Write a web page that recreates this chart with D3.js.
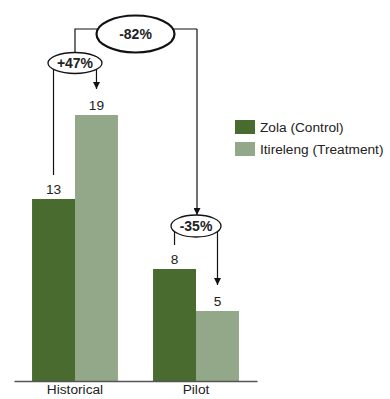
<!DOCTYPE html>
<html>
<head>
<meta charset="utf-8">
<script src="https://cdn.jsdelivr.net/npm/d3@7"></script>
<style>
  body { margin: 0; background: #fff; }
  text { font-family: "Liberation Sans", Arial, sans-serif; fill: #222; }
</style>
</head>
<body>
<script>
// data
let categories = ['Historical', 'Pilot'];
let seriesNames = ['Zola (Control)', 'Itireleng (Treatment)'];
let control = [13, 8];
let treatment = [19, 5];
let withinChange = ['+47%', '-35%'];
let acrossChange = '-82%';

let w = 390, h = 399;
let colors = ['#4a6b30', '#93a889'];

let svg = d3.select('body').append('svg')
    .attr('width', w)
    .attr('height', h);

let x = d3.scaleBand()
    .domain(categories)
    .range([14, 257])
    .paddingInner(0.29)
    .paddingOuter(0.149);

let x1 = d3.scaleBand()
    .domain(seriesNames)
    .range([0, x.bandwidth()]);

let y = d3.scaleLinear()
    .domain([0, 20])
    .range([381, 101]);

let rows = categories.map((c, i) => ({cat: c, vals: [control[i], treatment[i]]}));

let groups = svg.selectAll('g.grp')
    .data(rows)
    .enter()
    .append('g')
    .attr('class', 'grp')
    .attr('transform', d => `translate(${x(d.cat)},0)`);

groups.selectAll('rect')
    .data(d => d.vals.map((v, j) => ({s: seriesNames[j], v: v, j: j})))
    .enter()
    .append('rect')
    .attr('x', d => x1(d.s))
    .attr('y', d => y(d.v))
    .attr('width', x1.bandwidth())
    .attr('height', d => y(0) - y(d.v))
    .attr('fill', d => colors[d.j]);

groups.selectAll('text.val')
    .data(d => d.vals.map((v, j) => ({s: seriesNames[j], v: v})))
    .enter()
    .append('text')
    .attr('class', 'val')
    .attr('x', d => x1(d.s) + x1.bandwidth() / 2)
    .attr('y', d => y(d.v) - 5)
    .attr('text-anchor', 'middle')
    .style('font-size', '13.7px')
    .text(d => d.v);

// x axis
let xAxis = svg.append('g')
    .attr('transform', `translate(0,${y(0)})`)
    .call(d3.axisBottom(x).tickSize(0).tickPadding(3));
xAxis.select('.domain').attr('stroke', '#555').attr('stroke-width', 1.5);
xAxis.selectAll('text')
    .style('font-size', '13.7px')
    .style('font-family', '"Liberation Sans", Arial, sans-serif')
    .attr('fill', '#222');

// legend
let legend = svg.append('g').attr('transform', 'translate(235,120)');
seriesNames.forEach((s, i) => {
    legend.append('rect')
        .attr('x', 0)
        .attr('y', i * 22)
        .attr('width', 20)
        .attr('height', 14)
        .attr('fill', colors[i]);
    legend.append('text')
        .attr('x', 25)
        .attr('y', i * 22 + 12)
        .style('font-size', '13.7px')
        .text(s);
});

// annotations
let defs = svg.append('defs');
defs.append('marker')
    .attr('id', 'arr')
    .attr('viewBox', '0 0 10 10')
    .attr('refX', 10).attr('refY', 5)
    .attr('markerWidth', 7).attr('markerHeight', 7)
    .attr('markerUnits', 'userSpaceOnUse')
    .attr('orient', 'auto')
    .append('path')
    .attr('d', 'M0,0 L10,5 L0,10 Z')
    .attr('fill', '#111');

let ann = svg.append('g');
let cx = (c, s) => x(c) + x1(s) + x1.bandwidth() / 2;

let ellY = [63, 226];
let ellRx = [27, 25];
let ellRy = [10.5, 11];
let centers = [];

categories.forEach((c, i) => {
    let a = cx(c, seriesNames[0]);
    let b = cx(c, seriesNames[1]);
    let mx = (a + b) / 2;
    centers.push(mx);
    let ey = ellY[i];
    // line from control value label
    ann.append('line')
        .attr('x1', a).attr('x2', a)
        .attr('y1', ey + 4).attr('y2', y(control[i]) - 24)
        .attr('stroke', '#111').attr('stroke-width', 1.2);
    // arrow to treatment value label
    ann.append('line')
        .attr('x1', b).attr('x2', b)
        .attr('y1', ey + 4).attr('y2', y(treatment[i]) - 26)
        .attr('stroke', '#111').attr('stroke-width', 1.2)
        .attr('marker-end', 'url(#arr)');
    ann.append('ellipse')
        .attr('cx', mx).attr('cy', ey)
        .attr('rx', ellRx[i]).attr('ry', ellRy[i])
        .attr('fill', '#fff')
        .attr('stroke', '#111').attr('stroke-width', 1.3);
    ann.append('text')
        .attr('x', mx).attr('y', ey + 5)
        .attr('text-anchor', 'middle')
        .style('font-size', '14px')
        .style('font-weight', 'bold')
        .attr('fill', '#111')
        .text(withinChange[i]);
});

// across-period bracket
let topY = 29;
let bigX = (centers[0] + centers[1]) / 2;
ann.append('path')
    .attr('d', `M${centers[0]},${ellY[0] - ellRy[0]} V${topY} H${centers[1] + 1}`)
    .attr('fill', 'none')
    .attr('stroke', '#111').attr('stroke-width', 1.2);
ann.append('line')
    .attr('x1', centers[1] + 1).attr('x2', centers[1] + 1)
    .attr('y1', topY).attr('y2', ellY[1] - ellRy[1])
    .attr('stroke', '#111').attr('stroke-width', 1.2)
    .attr('marker-end', 'url(#arr)');
ann.append('ellipse')
    .attr('cx', bigX).attr('cy', 34)
    .attr('rx', 39).attr('ry', 18.5)
    .attr('fill', '#fff')
    .attr('stroke', '#111').attr('stroke-width', 2.2);
ann.append('text')
    .attr('x', bigX).attr('y', 39)
    .attr('text-anchor', 'middle')
    .style('font-size', '14px')
    .style('font-weight', 'bold')
    .attr('fill', '#111')
    .text(acrossChange);
</script>
</body>
</html>
